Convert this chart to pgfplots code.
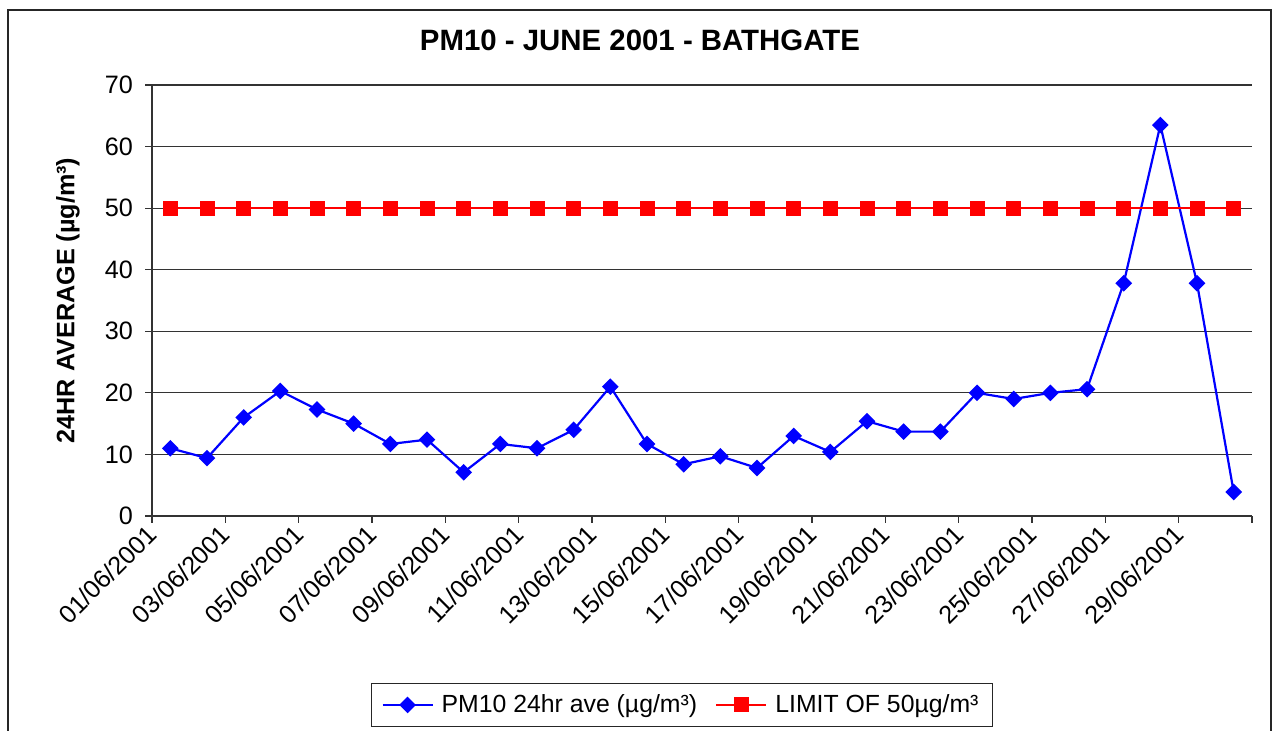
\documentclass[border=0pt]{standalone}
\usepackage{fontspec}
\setmainfont{Liberation Sans}
\usepackage{pgfplots}
\usepackage{pgfplotstable}
\pgfplotsset{compat=1.18}
\pgfplotstableread{
x y
0.5 11.0
1.5 9.4
2.5 16.0
3.5 20.3
4.5 17.3
5.5 15.0
6.5 11.7
7.5 12.4
8.5 7.1
9.5 11.7
10.5 11.0
11.5 14.0
12.5 21.0
13.5 11.7
14.5 8.4
15.5 9.7
16.5 7.8
17.5 13.0
18.5 10.4
19.5 15.4
20.5 13.7
21.5 13.7
22.5 20.0
23.5 19.0
24.5 20.0
25.5 20.6
26.5 37.8
27.5 63.5
28.5 37.8
29.5 3.9
}\pmten
\pgfplotstableread{
x y
0.5 50
1.5 50
2.5 50
3.5 50
4.5 50
5.5 50
6.5 50
7.5 50
8.5 50
9.5 50
10.5 50
11.5 50
12.5 50
13.5 50
14.5 50
15.5 50
16.5 50
17.5 50
18.5 50
19.5 50
20.5 50
21.5 50
22.5 50
23.5 50
24.5 50
25.5 50
26.5 50
27.5 50
28.5 50
29.5 50
}\limit
\begin{document}
\begin{tikzpicture}
\useasboundingbox (0pt,0pt) rectangle (638.5pt,365.5pt);
\draw[line width=0.9pt, black!85] (4pt,-2pt) -- (4pt,360.5pt) -- (635.5pt,360.5pt) -- (635.5pt,-2pt);
\begin{axis}[
  at={(76pt,107.5pt)}, anchor=south west,
  scale only axis, width=550pt, height=215.5pt,
  xmin=0, xmax=30, ymin=0, ymax=70,
  axis lines*=left,
  axis line style={black!80, line width=0.6pt},
  ytick={0,10,...,70},
  ymajorgrids,
  grid style={black!80, line width=0.6pt},
  xtick={0,2,...,30},
  xticklabels={01/06/2001,03/06/2001,05/06/2001,07/06/2001,09/06/2001,11/06/2001,13/06/2001,15/06/2001,17/06/2001,19/06/2001,21/06/2001,23/06/2001,25/06/2001,27/06/2001,29/06/2001,{}},
  tick align=outside,
  major tick length=3.5pt,
  tick style={black!80, line width=0.6pt},
  /pgf/number format/assume math mode=true,
  tick label style={font=\fontsize{12.6}{15}\selectfont},
  x tick label style={rotate=45, anchor=east, yshift=-2.5pt, xshift=1pt},
  y tick label style={xshift=-2.5pt},
  title={PM10 - JUNE 2001 - BATHGATE},
  title style={font=\bfseries\fontsize{14.7}{17}\selectfont, at={(axis description cs:0.4436,1.0766)}, anchor=center},
  ylabel={24HR AVERAGE (µg/m³)},
  ylabel style={font=\bfseries\fontsize{12.6}{15}\selectfont, at={(axis description cs:-0.0764,0.5)}, anchor=center},
  legend columns=2,
  legend style={at={(axis description cs:0.4818,-0.4385)}, anchor=center, draw=black!85, line width=0.8pt,
    font=\fontsize{12.4}{15}\selectfont, inner xsep=5pt, inner ysep=3.5pt,
    /tikz/every odd column/.append style={column sep=2pt},
    /tikz/every even column/.append style={column sep=7pt}},
  legend image code/.code={\draw[mark repeat=2,mark phase=2,#1] plot coordinates {(0pt,0pt) (12.5pt,0pt) (25pt,0pt)};},
  clip=false,
]
\addplot[color={rgb,255:red,0;green,0;blue,255}, line width=1.1pt, mark=square*, mark size=2.4pt, mark options={rotate=45, solid}] table[x=x,y=y] {\pmten};
\addlegendentry{PM10 24hr ave (µg/m³)}
\addplot[color={rgb,255:red,255;green,0;blue,0}, line width=1.1pt, mark=square*, mark size=3.2pt, mark options={solid}] table[x=x,y=y] {\limit};
\addlegendentry{LIMIT OF 50µg/m³}
\end{axis}
\end{tikzpicture}
\end{document}
